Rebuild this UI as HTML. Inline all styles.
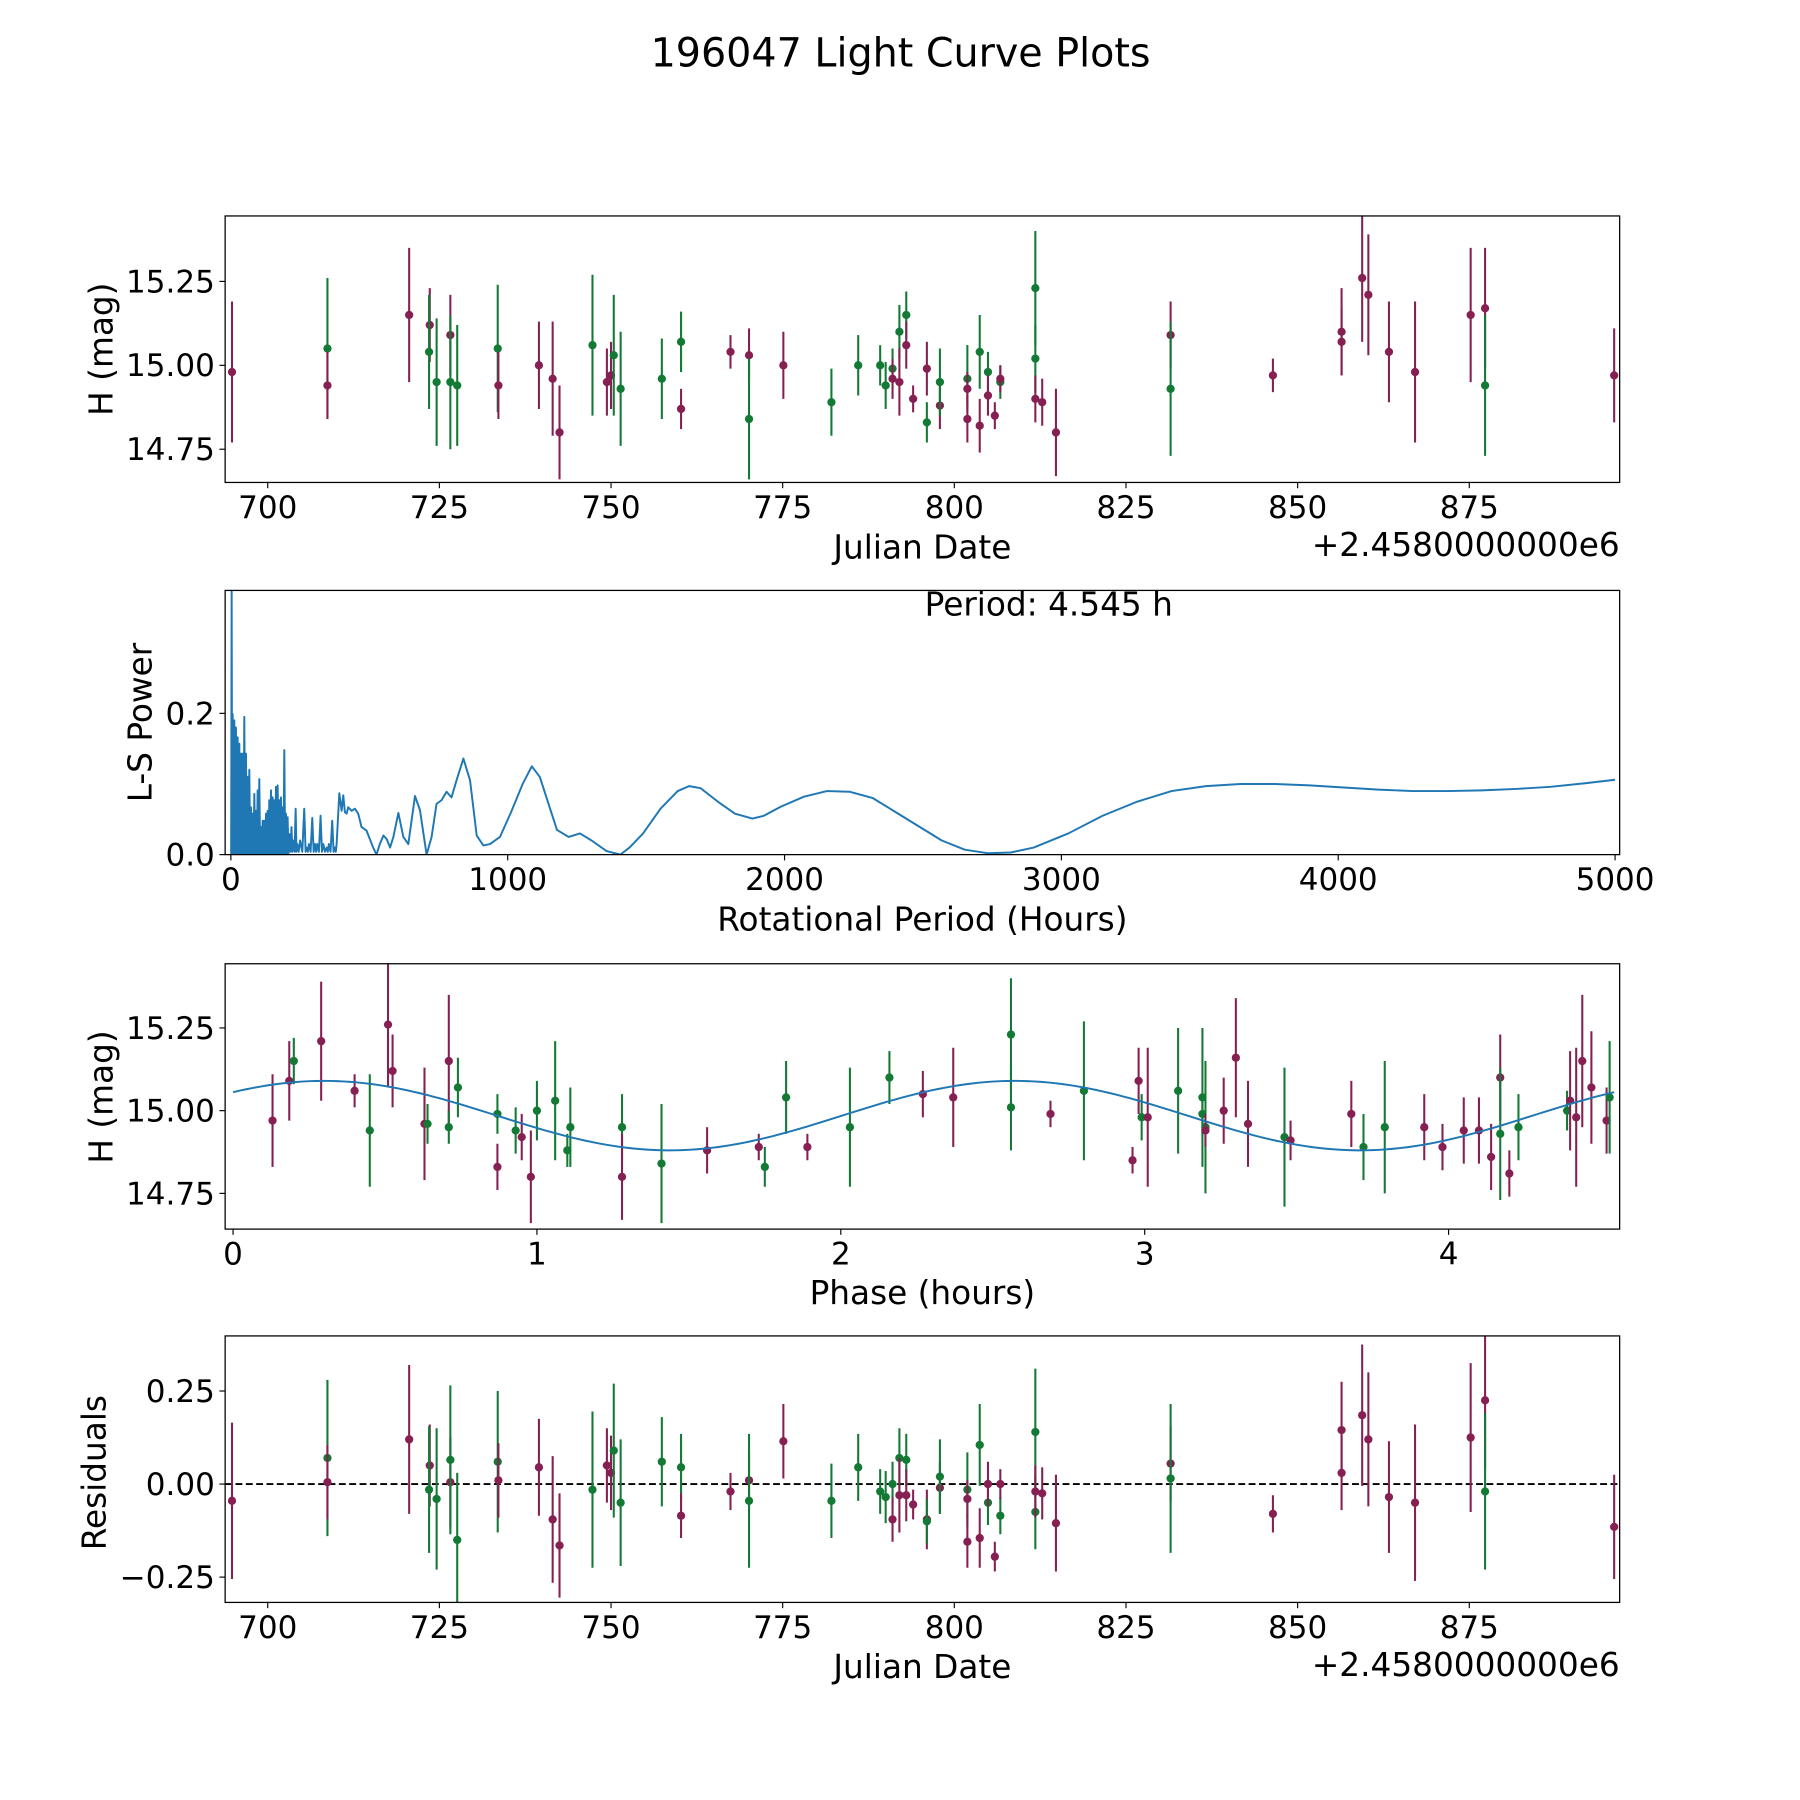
<!DOCTYPE html>
<html><head><meta charset="utf-8"><title>196047 Light Curve Plots</title>
<style>html,body{margin:0;padding:0;background:#fff;}svg{display:block;}text{font-family:"DejaVu Sans","Liberation Sans",sans-serif;fill:#000;}</style>
</head><body>
<svg id="fig" width="1800" height="1800" viewBox="0 0 1567 1567" xmlns="http://www.w3.org/2000/svg">
<rect width="1567" height="1567" fill="#fff"/>
<text x="784" y="58" font-size="34.5" text-anchor="middle">196047 Light Curve Plots</text>
</svg>
<script>
// ---- Panel 1 & 4 data (Julian date offset, magnitude, error, residual, filter group)
const jdDays = [694.8,708.7,708.7,720.6,723.6,723.5,724.6,726.6,726.6,727.6,733.5,733.6,739.5,741.5,742.5,747.3,749.4,750.0,750.4,751.4,757.4,760.2,760.2,767.4,770.1,770.1,775.1,782.1,786.0,789.2,790.0,791.0,791.0,792.0,793.0,793.0,792.0,794.0,796.0,796.0,797.9,797.9,801.9,801.9,801.9,803.7,803.7,804.9,804.9,805.9,806.7,806.7,811.8,811.8,811.8,812.8,814.8,831.5,831.5,846.4,856.4,856.4,859.4,860.3,863.3,867.1,875.2,877.3,877.3,896.1];
const jdMags = [14.98,15.05,14.94,15.15,15.12,15.04,14.95,15.09,14.95,14.94,15.05,14.94,15.00,14.96,14.80,15.06,14.95,14.97,15.03,14.93,14.96,15.07,14.87,15.04,15.03,14.84,15.00,14.89,15.00,15.00,14.94,14.99,14.96,15.10,15.15,15.06,14.95,14.90,14.99,14.83,14.88,14.95,14.96,14.93,14.84,15.04,14.82,14.98,14.91,14.85,14.95,14.96,15.23,15.02,14.90,14.89,14.80,15.09,14.93,14.97,15.10,15.07,15.26,15.21,15.04,14.98,15.15,15.17,14.94,14.97];
const jdErrs = [0.21,0.21,0.1,0.2,0.11,0.17,0.19,0.12,0.2,0.18,0.19,0.1,0.13,0.17,0.14,0.21,0.1,0.1,0.18,0.17,0.12,0.09,0.06,0.05,0.08,0.18,0.1,0.1,0.09,0.06,0.07,0.06,0.06,0.08,0.07,0.07,0.1,0.04,0.08,0.06,0.07,0.1,0.1,0.05,0.07,0.11,0.08,0.06,0.06,0.04,0.05,0.04,0.17,0.1,0.07,0.07,0.13,0.1,0.2,0.05,0.13,0.1,0.19,0.18,0.15,0.21,0.2,0.18,0.21,0.14];
const residuals = [-0.045,0.07,0.005,0.12,0.05,-0.015,-0.04,0.005,0.065,-0.15,0.06,0.01,0.045,-0.095,-0.165,-0.015,0.05,0.03,0.09,-0.05,0.06,0.045,-0.085,-0.02,0.01,-0.045,0.115,-0.045,0.045,-0.02,-0.035,0.0,-0.095,0.07,0.065,-0.03,-0.03,-0.055,-0.095,-0.1,-0.01,0.02,-0.015,-0.04,-0.155,0.105,-0.145,-0.05,0.0,-0.195,-0.085,0.0,0.14,-0.075,-0.02,-0.025,-0.105,0.055,0.015,-0.08,0.145,0.03,0.185,0.12,-0.035,-0.05,0.125,0.225,-0.02,-0.115];
const jdGroups = ['p','g','p','p','p','g','g','p','g','g','g','p','p','p','p','g','p','p','g','g','g','g','p','p','p','g','p','g','g','g','g','g','p','g','g','p','p','p','p','g','p','g','g','p','p','g','p','g','p','p','g','p','g','g','p','p','p','p','g','p','p','p','p','p','p','p','p','p','g','p'];
// ---- Panel 3 data (phase-folded)
const phases = [0.13,0.185,0.20,0.29,0.40,0.45,0.51,0.525,0.63,0.64,0.71,0.71,0.74,0.87,0.87,0.93,0.95,0.98,1.0,1.06,1.10,1.11,1.28,1.28,1.41,1.56,1.73,1.75,1.82,1.89,2.03,2.16,2.27,2.37,2.56,2.56,2.69,2.80,2.96,2.98,2.99,3.01,3.11,3.19,3.19,3.20,3.20,3.26,3.30,3.34,3.46,3.48,3.68,3.72,3.79,3.92,3.98,4.05,4.10,4.14,4.17,4.17,4.20,4.23,4.39,4.40,4.42,4.44,4.47,4.52,4.53];
const phaseMags = [14.97,15.09,15.15,15.21,15.06,14.94,15.26,15.12,14.96,14.96,15.15,14.95,15.07,14.99,14.83,14.94,14.92,14.80,15.00,15.03,14.88,14.95,14.95,14.80,14.84,14.88,14.89,14.83,15.04,14.89,14.95,15.10,15.05,15.04,15.01,15.23,14.99,15.06,14.85,15.09,14.98,14.98,15.06,15.04,14.99,14.95,14.94,15.00,15.16,14.96,14.92,14.91,14.99,14.89,14.95,14.95,14.89,14.94,14.94,14.86,15.10,14.93,14.81,14.95,15.00,15.03,14.98,15.15,15.07,14.97,15.04];
const phaseErrs = [0.14,0.12,0.07,0.18,0.05,0.17,0.19,0.11,0.17,0.06,0.2,0.05,0.09,0.06,0.07,0.07,0.07,0.14,0.09,0.18,0.05,0.12,0.1,0.13,0.18,0.07,0.04,0.06,0.11,0.04,0.18,0.08,0.07,0.15,0.13,0.17,0.04,0.21,0.04,0.1,0.07,0.21,0.19,0.21,0.06,0.2,0.05,0.1,0.18,0.13,0.21,0.06,0.1,0.1,0.2,0.1,0.07,0.1,0.1,0.1,0.13,0.2,0.07,0.1,0.06,0.15,0.21,0.2,0.17,0.1,0.17];
const phaseGroups = ['p','p','g','p','p','g','p','p','p','g','p','g','g','g','p','g','p','p','g','g','g','g','g','p','g','p','p','g','g','p','g','g','p','p','g','g','p','g','p','p','g','p','g','g','g','g','p','p','p','p','g','p','p','g','g','p','p','p','p','p','p','g','p','g','g','p','p','p','p','p','g'];
// sinusoidal fit parameters: [mean mag, amplitude, peak phase, period of fit (h)]
const fitParams = [14.985, 0.105, 0.30, 2.2725];
// ---- Panel 2 data (Lomb-Scargle periodogram)
const lsPeriods = [1,2.8,4.6,6.4,9.4,12.4,15.4,18.4,21.4,24.5,27.5,30.5,33.5,36.5,39.5,42.5,45.5,48.5,51.5,54.6,57.6,60.6,63.6,66.6,69.6,72.6,75.6,78.6,81.6,84.7,87.7,90.7,93.7,96.7,99.7,102.7,105.7,108.7,111.7,114.8,117.8,120.8,123.8,126.8,129.8,132.8,135.8,138.8,141.8,144.9,147.9,150.9,153.9,156.9,159.9,162.9,165.9,168.9,172,175,178,181,184,187,190,193,196,199,202,205,208,211,215,219,222,225,230,234,237,240,245,250,258,265,270,274,278,282,288,294,299,304,308,312,318,324,329,334,340,346,350,354,360,366,371,376,379,382,391.7,400,406,412,418,424,436,448,460,472,490,514,526,538,551,563,575,587,605,623,641,665,683,707,725,743,761,779,797,815,840,864,888,912,936,972,1012,1054,1087,1116,1149,1178,1220,1261,1303,1357,1407,1440,1489,1552,1614,1655,1697,1759,1821,1884,1925,1987,2070,2153,2236,2319,2402,2485,2568,2651,2734,2817,2900,3025,3149,3274,3398,3522,3647,3771,3896,4020,4145,4269,4394,4518,4643,4767,4892,5000];
const lsPowers = [0.0,0.38,0.002,0.199,0.002,0.19,0.002,0.18,0.002,0.166,0.002,0.157,0.002,0.143,0.002,0.143,0.002,0.195,0.002,0.143,0.002,0.11,0.002,0.12,0.002,0.067,0.002,0.058,0.002,0.086,0.002,0.062,0.002,0.091,0.002,0.107,0.002,0.039,0.002,0.048,0.002,0.048,0.002,0.058,0.002,0.062,0.002,0.077,0.002,0.091,0.002,0.081,0.002,0.077,0.002,0.096,0.002,0.098,0.002,0.077,0.002,0.081,0.002,0.067,0.002,0.148,0.002,0.058,0.002,0.053,0.002,0.029,0.004,0.039,0.004,0.02,0.004,0.065,0.004,0.015,0.004,0.02,0.004,0.065,0.004,0.01,0.004,0.015,0.004,0.052,0.004,0.015,0.004,0.015,0.004,0.055,0.004,0.015,0.004,0.01,0.004,0.015,0.004,0.048,0.004,0.01,0.004,0.015,0.087,0.062,0.084,0.06,0.058,0.067,0.062,0.065,0.058,0.039,0.034,0.01,0.0,0.015,0.027,0.022,0.01,0.025,0.059,0.025,0.015,0.083,0.063,0.0,0.025,0.072,0.077,0.089,0.081,0.105,0.136,0.105,0.027,0.013,0.015,0.025,0.06,0.1,0.125,0.11,0.07,0.035,0.025,0.03,0.02,0.005,0.0,0.01,0.03,0.065,0.09,0.097,0.094,0.075,0.058,0.051,0.055,0.068,0.082,0.09,0.089,0.08,0.06,0.04,0.02,0.007,0.002,0.003,0.01,0.03,0.055,0.075,0.09,0.097,0.1,0.1,0.098,0.095,0.092,0.09,0.09,0.091,0.093,0.096,0.101,0.106];
const jdTicks = [700,725,750,775,800,825,850,875];
const magTicks = [15.25,15.00,14.75];
const magTickLabels = ['15.25','15.00','14.75'];
const lsXTicks = [0,1000,2000,3000,4000,5000];
const lsYTicks = [0.0,0.2];
const lsYTickLabels = ['0.0','0.2'];
const phaseTicks = [0,1,2,3,4];
const resTicks = [0.25,0.00,-0.25];
const resTickLabels = ['0.25','0.00','\u22120.25'];

const NS='http://www.w3.org/2000/svg';
const svg=document.getElementById('fig');
const PURPLE='#862052', GREEN='#137a35', BLUE='#1f77b4';
function mk(tag,attrs,parent){const e=document.createElementNS(NS,tag);for(const k in attrs)e.setAttribute(k,attrs[k]);(parent||svg).appendChild(e);return e;}
function lin(d0,d1,p0,p1){return v=>p0+(v-d0)*(p1-p0)/(d1-d0);}

function axesFrame(name){
  const g=mk('g',{});
  
  
  return g;
}
function frameRect(g,L,T,R,B){
  const r=mk('rect',{x:L,y:T,width:R-L,height:B-T,fill:'none',stroke:'#000','stroke-width':1.1},g);
  
  
}
function xTicksDraw(g,ticks,labels,sx,B,fs){
  ticks.forEach((t,i)=>{
    const x=sx(t);
    mk('line',{x1:x,y1:B,x2:x,y2:B+5,stroke:'#000','stroke-width':1},g);
    const tx=mk('text',{x:x,y:B+31,'font-size':fs,'text-anchor':'middle'},g);
    tx.textContent=labels[i];
    
    
  });
}
function yTicksDraw(g,ticks,labels,sy,L,fs){
  ticks.forEach((t,i)=>{
    const y=sy(t);
    mk('line',{x1:L-5,y1:y,x2:L,y2:y,stroke:'#000','stroke-width':1},g);
    const tx=mk('text',{x:L-9,y:y+9.5,'font-size':fs,'text-anchor':'end'},g);
    tx.textContent=labels[i];
    
    
  });
}
function label(g,txt,x,y,rot,name){
  const t=mk('text',{x:x,y:y,'font-size':28.5,'text-anchor':'middle'},g);
  if(rot)t.setAttribute('transform','rotate(-90 '+x+' '+y+')');
  t.textContent=txt;
  
  
}
function clip(id,L,T,R,B){const cp=mk('clipPath',{id:id});mk('rect',{x:L,y:T,width:R-L,height:B-T},cp);}
function errPoints(g,xs,ys,es,grps,sx,sy,clipId,name){
  const pg=mk('g',{'clip-path':'url(#'+clipId+')'},g);
  xs.forEach((xv,i)=>{
    const col=grps[i]==='g'?GREEN:PURPLE;
    const x=sx(xv);
    const l=mk('line',{x1:x,y1:sy(ys[i]-es[i]),x2:x,y2:sy(ys[i]+es[i]),stroke:col,'stroke-width':1.8},pg);
    
    
    const c=mk('circle',{cx:x,cy:sy(ys[i]),r:3.6,fill:col},pg);
    
    
  });
}
const FS=27;
const jdLabels=jdTicks.map(String);

// Panel 1
{const L=196,T=188,R=1410,B=420;
 const sx=lin(693.8,896.9,L,R), sy=lin(14.651,15.445,B,T);
 const g=axesFrame('light-curve-panel');clip('c1',L,T,R,B);
 errPoints(g,jdDays,jdMags,jdErrs,jdGroups,sx,sy,'c1','magnitude');
 frameRect(g,L,T,R,B);
 xTicksDraw(g,jdTicks,jdLabels,sx,B,FS);
 yTicksDraw(g,magTicks,magTickLabels,sy,L,FS);
 label(g,'Julian Date',803,486,false,'x-axis-title');
 const o=mk('text',{x:R,y:484,'font-size':28.5,'text-anchor':'end'},g);o.textContent='+2.4580000000e6';
 
 label(g,'H (mag)',98,304,true,'y-axis-title');}

// Panel 2
{const L=196,T=514,R=1410,B=744;
 const sx=lin(-20.7,5016.6,L,R), sy=lin(0,0.374,B,T);
 const g=axesFrame('periodogram-panel');clip('c2',L,T,R,B);
 const pts=lsPeriods.map((p,i)=>sx(p).toFixed(2)+','+sy(lsPowers[i]).toFixed(2)).join(' ');
 const pl=mk('polyline',{points:pts,fill:'none',stroke:BLUE,'stroke-width':1.7,'stroke-linejoin':'round','clip-path':'url(#c2)'},g);
 
 frameRect(g,L,T,R,B);
 xTicksDraw(g,lsXTicks,lsXTicks.map(String),sx,B,FS);
 yTicksDraw(g,lsYTicks,lsYTickLabels,sy,L,FS);
 label(g,'Rotational Period (Hours)',803,810,false,'x-axis-title');
 label(g,'L-S Power',132,629,true,'y-axis-title');
 const pt=mk('text',{x:913,y:536,'font-size':28.5,'text-anchor':'middle'},g);pt.textContent='Period: 4.545 h';
 }

// Panel 3
{const L=196,T=839,R=1410,B=1070;
 const sx=lin(-0.026,4.563,L,R), sy=lin(14.642,15.444,B,T);
 const g=axesFrame('phase-folded-panel');clip('c3',L,T,R,B);
 errPoints(g,phases,phaseMags,phaseErrs,phaseGroups,sx,sy,'c3','phase');
 const model=[];for(let k=0;k<=200;k++){const ph=4.545*k/200;model.push(sx(ph).toFixed(2)+','+sy(fitParams[0]+fitParams[1]*Math.cos(2*Math.PI*(ph-fitParams[2])/fitParams[3])).toFixed(2));}
 const ml=mk('polyline',{points:model.join(' '),fill:'none',stroke:BLUE,'stroke-width':1.7,'clip-path':'url(#c3)'},g);
 
 frameRect(g,L,T,R,B);
 xTicksDraw(g,phaseTicks,phaseTicks.map(String),sx,B,FS);
 yTicksDraw(g,magTicks,magTickLabels,sy,L,FS);
 label(g,'Phase (hours)',803,1135,false,'x-axis-title');
 label(g,'H (mag)',98,955,true,'y-axis-title');}

// Panel 4
{const L=196,T=1163,R=1410,B=1395;
 const sx=lin(693.8,896.9,L,R), sy=lin(-0.318,0.398,B,T);
 const g=axesFrame('residuals-panel');clip('c4',L,T,R,B);
 const zl=mk('line',{x1:L,y1:sy(0),x2:R,y2:sy(0),stroke:'#000','stroke-width':1.7,'stroke-dasharray':'6,3'},g);
 
 errPoints(g,jdDays,residuals,jdErrs,jdGroups,sx,sy,'c4','residual');
 frameRect(g,L,T,R,B);
 xTicksDraw(g,jdTicks,jdLabels,sx,B,FS);
 yTicksDraw(g,resTicks,resTickLabels,sy,L,FS);
 label(g,'Julian Date',803,1461,false,'x-axis-title');
 const o=mk('text',{x:R,y:1459,'font-size':28.5,'text-anchor':'end'},g);o.textContent='+2.4580000000e6';
 
 label(g,'Residuals',92,1282,true,'y-axis-title');}
</script>
</body></html>
